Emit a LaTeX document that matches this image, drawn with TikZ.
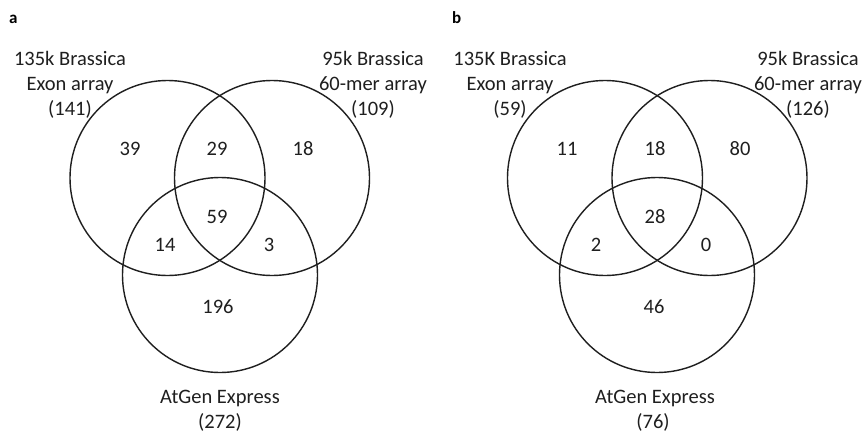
\documentclass[tikz,border=0pt]{standalone}
\usepackage{fontspec}
\setmainfont{Carlito}
\begin{document}
\begin{tikzpicture}[x=1pt,y=-1pt,
  set/.style={draw=black!88,line width=1.4pt},
  lbl/.style={anchor=base,inner sep=0pt,text=black!88,font=\fontsize{20.5}{25}\selectfont},
  num/.style={lbl},
  panel/.style={anchor=base west,inner sep=0pt,font=\fontsize{17}{20}\selectfont\bfseries}]
\useasboundingbox (0,0) rectangle (863,434);
\fill[white] (0,0) rectangle (863,434);

% ---------- panel a ----------
\node[panel] (pa) at (9,23) {a};
\node[set,circle,minimum size=195pt,inner sep=0pt] (aL) at (167.5,178) {};
\node[set,circle,minimum size=195pt,inner sep=0pt] (aR) at (272,178) {};
\node[set,circle,minimum size=195pt,inner sep=0pt] (aB) at (220,275) {};
\node[lbl] (aL1) at (70,65) {135k Brassica};
\node[lbl] (aL2) at (70,90) {Exon array};
\node[lbl] (aL3) at (70,115) {(141)};
\node[lbl] (aR1) at (373,65) {95k Brassica};
\node[lbl] (aR2) at (373,90) {60-mer array};
\node[lbl] (aR3) at (373,115) {(109)};
\node[lbl] (aB1) at (220,403) {AtGen Express};
\node[lbl] (aB2) at (220,428) {(272)};
\node[num] (a1) at (130,155) {39};
\node[num] (a2) at (217,155) {29};
\node[num] (a3) at (303,155) {18};
\node[num] (a4) at (217,223) {59};
\node[num] (a5) at (165,251) {14};
\node[num] (a6) at (269,251) {3};
\node[num] (a7) at (218,313) {196};

% ---------- panel b ----------
\node[panel] (pb) at (452,23) {b};
\node[set,circle,minimum size=195pt,inner sep=0pt] (bL) at (605,178) {};
\node[set,circle,minimum size=195pt,inner sep=0pt] (bR) at (709.5,178) {};
\node[set,circle,minimum size=195pt,inner sep=0pt] (bB) at (657,275) {};
\node[lbl] (bL1) at (510,65) {135K Brassica};
\node[lbl] (bL2) at (510,90) {Exon array};
\node[lbl] (bL3) at (510,115) {(59)};
\node[lbl] (bR1) at (808,65) {95k Brassica};
\node[lbl] (bR2) at (808,90) {60-mer array};
\node[lbl] (bR3) at (808,115) {(126)};
\node[lbl] (bB1) at (655,403) {AtGen Express};
\node[lbl] (bB2) at (653,428) {(76)};
\node[num] (b1) at (567,155) {11};
\node[num] (b2) at (655,155) {18};
\node[num] (b3) at (740,155) {80};
\node[num] (b4) at (655,223) {28};
\node[num] (b5) at (596,251) {2};
\node[num] (b6) at (706,251) {0};
\node[num] (b7) at (654,313) {46};
\end{tikzpicture}
\end{document}
